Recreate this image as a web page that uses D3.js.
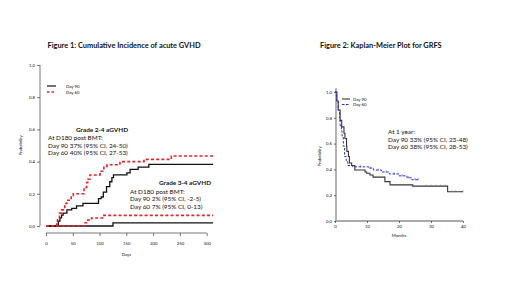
<!DOCTYPE html>
<html>
<head>
<meta charset="utf-8">
<style>
  body { margin: 0; background: #fff; }
  svg text { font-family: Lato, "Open Sans", sans-serif; fill: #111; }
  .tiny { font-size: 4.3px; }
  .note { font-size: 6.4px; }
  .ttl { font-size: 7.4px; font-weight: bold; }
</style>
</head>
<body>
<script src="https://cdn.jsdelivr.net/npm/d3@7"></script>
<script>

    var width = 520;
    var height = 304;

    // ---- figure 1 data: cumulative incidence, [day, value], step after
    var yTicks1 = [0, 0.2, 0.4, 0.6, 0.8, 1.0];
    var xTicks1 = [0, 50, 100, 150, 200, 250, 300];
    var end1 = 312;

    var g24Day90 = [[0,0],[23,0.03],[26,0.05],[29,0.068],[32,0.08],[39,0.10],[48,0.11],[57,0.125],[69,0.14],
        [98,0.17],[103,0.18],[107,0.21],[113,0.245],[119,0.275],[123,0.30],[126,0.317],[151,0.33],
        [157,0.352],[172,0.366],[192,0.383]];
    var g24Day60 = [[0,0],[20,0.02],[21.5,0.05],[25,0.08],[29,0.10],[35,0.14],[39,0.16],[47,0.19],[51,0.20],
        [71,0.24],[76,0.27],[78,0.29],[82,0.317],[101,0.34],[108,0.37],[114,0.38],[138,0.40],
        [183,0.414],[234,0.435]];
    var g34Day90 = [[0,0],[125,0.019]];
    var g34Day60 = [[0,0],[73,0.02],[78,0.037],[85,0.05],[108,0.066]];

    // ---- figure 2 data: Kaplan-Meier GRFS, [month, value]
    var yTicks2 = [0, 0.2, 0.4, 0.6, 0.8, 1.0];
    var xTicks2 = [0, 10, 20, 30, 40];

    var kmDay90 = [[0,1.0],[0.6,0.93],[1,0.86],[1.6,0.78],[2.1,0.73],[2.8,0.68],[3.1,0.64],[3.6,0.58],
        [3.7,0.54],[4.2,0.5],[4.5,0.45],[5.2,0.43],[6.2,0.395],[9.4,0.38],[9.9,0.37],[10.9,0.357],
        [11.9,0.34],[15.6,0.305],[17.2,0.28],[24.3,0.27],[35.2,0.227],[40,0.227]];
    var kmDay60 = [[0,1.0],[0.5,0.93],[1,0.86],[1.4,0.80],[1.6,0.74],[2,0.70],[2.2,0.66],[2.6,0.58],
        [3,0.5],[3.5,0.46],[4,0.43],[5.5,0.42],[10.5,0.41],[12,0.395],[14.5,0.38],[17,0.365],
        [20,0.35],[22.5,0.335],[24,0.32],[26,0.32]];
    var cens90 = [28.5, 30, 31.5, 33, 34.5, 36.5, 37.5, 40];
    var cens60 = [8, 11, 13.5, 16, 18.5, 21, 23, 25, 26];

    var svg = d3.select("body").append("svg")
        .attr("width", width)
        .attr("height", height);

    // ================= figure 1 =================
    var x1 = d3.scaleLinear().domain([0, 300]).range([46, 206.7]);
    var y1 = d3.scaleLinear().domain([0, 1]).range([226, 65]);

    svg.append("text").attr("class", "ttl")
        .attr("x", 124).attr("y", 48).attr("text-anchor", "middle")
        .text("Figure 1: Cumulative Incidence of acute GVHD");

    var ax1 = svg.append("g").attr("transform", "translate(40,0)")
        .call(d3.axisLeft(y1).tickValues(yTicks1).tickFormat(d3.format(".1f")).tickSize(3).tickPadding(2));
    var bx1 = svg.append("g").attr("transform", "translate(0,233)")
        .call(d3.axisBottom(x1).tickValues(xTicks1).tickSize(3).tickPadding(6));
    [ax1, bx1].forEach(function (a) {
        a.select(".domain").attr("stroke", "#555").attr("stroke-width", 0.8);
        a.selectAll(".tick line").attr("stroke", "#555").attr("stroke-width", 0.8);
        a.selectAll(".tick text").attr("class", "tiny").attr("font-family", null).attr("font-size", null);
    });
    ax1.select(".domain").attr("d", "M0," + y1(0) + "V" + y1(1));
    bx1.select(".domain").attr("d", "M" + x1(0) + ",0H" + x1(300));

    svg.append("text").attr("class", "tiny")
        .attr("x", x1(150)).attr("y", 256).attr("text-anchor", "middle").text("Days");
    svg.append("text").attr("class", "tiny")
        .attr("transform", "translate(22," + y1(0.5) + ") rotate(-90)")
        .attr("text-anchor", "middle").text("Probability");

    var line1 = d3.line().curve(d3.curveStepAfter)
        .x(function (d) { return x1(d[0]); })
        .y(function (d) { return y1(d[1]); });

    function extend(s, e) { return s.concat([[e, s[s.length - 1][1]]]); }

    var red = "#e3262a";
    [[g34Day90, "black"], [g24Day90, "black"], [g34Day60, "red"], [g24Day60, "red"]].forEach(function (c) {
        svg.append("path")
            .attr("d", line1(extend(c[0], end1)))
            .attr("fill", "none")
            .attr("stroke", c[1] == "red" ? red : "#111")
            .attr("stroke-width", c[1] == "red" ? 1.6 : 1.3)
            .attr("stroke-dasharray", c[1] == "red" ? "3,2.2" : null);
    });

    // legend 1
    svg.append("line").attr("x1", 47).attr("x2", 56).attr("y1", 86).attr("y2", 86)
        .attr("stroke", "#111").attr("stroke-width", 1.2);
    svg.append("line").attr("x1", 47).attr("x2", 56).attr("y1", 92).attr("y2", 92)
        .attr("stroke", red).attr("stroke-width", 1.3).attr("stroke-dasharray", "2.5,2");
    svg.append("text").attr("class", "tiny").attr("x", 66).attr("y", 87.5).text("Day 90");
    svg.append("text").attr("class", "tiny").attr("x", 66).attr("y", 93.5).text("Day 60");

    // annotations 1
    svg.append("text").attr("class", "note").attr("font-weight", "bold")
        .attr("x", 102).attr("y", 132).attr("text-anchor", "middle").text("Grade 2-4 aGVHD");
    [["At D180 post BMT:", 140], ["Day 90 37% (95% CI, 24-50)", 147.5], ["Day 60 40% (95% CI, 27-53)", 155]]
        .forEach(function (t) {
            svg.append("text").attr("class", "note").attr("x", 48).attr("y", t[1]).text(t[0]);
        });
    svg.append("text").attr("class", "note").attr("font-weight", "bold")
        .attr("x", 185).attr("y", 185).attr("text-anchor", "middle").text("Grade 3-4 aGVHD");
    [["At D180 post BMT:", 193.5], ["Day 90 2% (95% CI, -2-5)", 201], ["Day 60 7% (95% CI, 0-13)", 208.5]]
        .forEach(function (t) {
            svg.append("text").attr("class", "note").attr("x", 130).attr("y", t[1]).text(t[0]);
        });

    // ================= figure 2 =================
    var x2 = d3.scaleLinear().domain([0, 40]).range([335, 463]);
    var y2 = d3.scaleLinear().domain([0, 1]).range([221, 92]);

    svg.append("text").attr("class", "ttl")
        .attr("x", 320).attr("y", 48).text("Figure 2: Kaplan-Meier Plot for GRFS");

    var ax2 = svg.append("g").attr("transform", "translate(336,0)")
        .call(d3.axisLeft(y2).tickValues(yTicks2).tickFormat(d3.format(".1f")).tickSize(2).tickPadding(2));
    var bx2 = svg.append("g").attr("transform", "translate(0,221)")
        .call(d3.axisBottom(x2).tickValues(xTicks2).tickSize(2).tickPadding(1.5));
    [ax2, bx2].forEach(function (a) {
        a.select(".domain").attr("stroke", "#aaa").attr("stroke-width", 1.8);
        a.selectAll(".tick line").attr("stroke", "#333").attr("stroke-width", 0.7);
        a.selectAll(".tick text").attr("class", "tiny").attr("font-size", "4.8px").attr("font-family", null);
    });
    ax2.select(".domain").attr("d", "M0," + y2(0) + "V" + y2(1.03));
    bx2.select(".domain").attr("d", "M" + x2(0) + ",0H" + x2(40));

    svg.append("text").attr("class", "tiny").attr("font-size", "5px")
        .attr("x", x2(20)).attr("y", 237).attr("text-anchor", "middle").text("Months");
    svg.append("text").attr("class", "tiny").attr("font-size", "5px")
        .attr("transform", "translate(321," + y2(0.5) + ") rotate(-90)")
        .attr("text-anchor", "middle").text("Probability");

    var line2 = d3.line().curve(d3.curveStepAfter)
        .x(function (d) { return x2(d[0]); })
        .y(function (d) { return y2(d[1]); });

    var blue = "#2a2ad0";
    svg.append("path").attr("d", line2(kmDay90))
        .attr("fill", "none").attr("stroke", "#333").attr("stroke-width", 1.1);
    svg.append("path").attr("d", line2(kmDay60))
        .attr("fill", "none").attr("stroke", blue).attr("stroke-width", 1.0)
        .attr("stroke-dasharray", "2.5,1.6");

    function stepVal(s, t) {
        var v = s[0][1];
        s.forEach(function (d) { if (d[0] <= t) v = d[1]; });
        return v;
    }
    cens90.forEach(function (t) {
        svg.append("line").attr("x1", x2(t)).attr("x2", x2(t))
            .attr("y1", y2(stepVal(kmDay90, t)) - 1.5).attr("y2", y2(stepVal(kmDay90, t)) + 0.5)
            .attr("stroke", "#777").attr("stroke-width", 0.6);
    });
    cens60.forEach(function (t) {
        svg.append("line").attr("x1", x2(t)).attr("x2", x2(t))
            .attr("y1", y2(stepVal(kmDay60, t)) - 1.5).attr("y2", y2(stepVal(kmDay60, t)) + 0.5)
            .attr("stroke", blue).attr("stroke-width", 0.6);
    });

    // legend 2
    svg.append("line").attr("x1", 342).attr("x2", 350).attr("y1", 99).attr("y2", 99)
        .attr("stroke", "#333").attr("stroke-width", 1.1);
    svg.append("line").attr("x1", 342).attr("x2", 350).attr("y1", 104.5).attr("y2", 104.5)
        .attr("stroke", blue).attr("stroke-width", 1).attr("stroke-dasharray", "2.5,1.5");
    svg.append("text").attr("class", "tiny").attr("font-size", "4.8px").attr("x", 353).attr("y", 100.7).text("Day 90");
    svg.append("text").attr("class", "tiny").attr("font-size", "4.8px").attr("x", 353).attr("y", 106.2).text("Day 60");

    // annotations 2
    [["At 1 year:", 134], ["Day 90 33% (95% CI, 23-48)", 141.5], ["Day 60 38% (95% CI, 28-53)", 149]]
        .forEach(function (t) {
            svg.append("text").attr("class", "note").attr("x", 388).attr("y", t[1]).text(t[0]);
        });

</script>
</body>
</html>
